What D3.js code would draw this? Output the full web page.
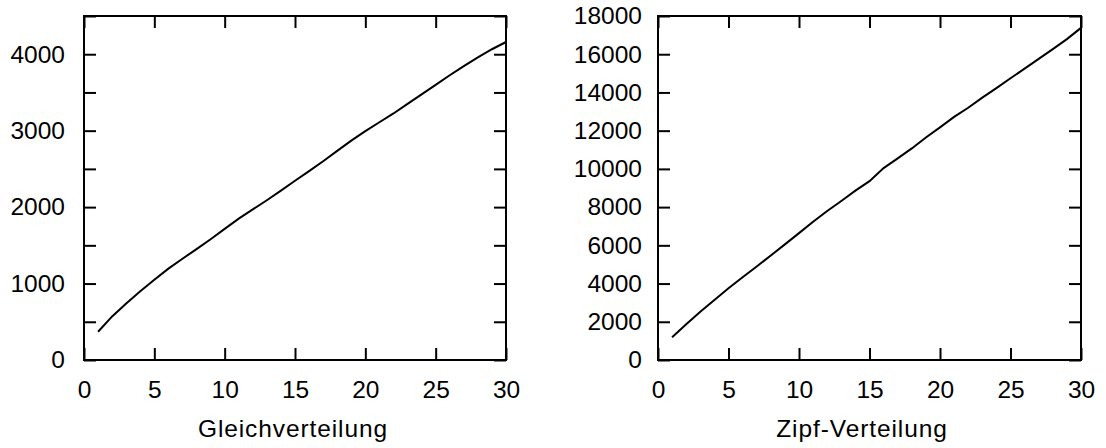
<!DOCTYPE html>
<html><head><meta charset="utf-8">
<script src="https://cdn.jsdelivr.net/npm/d3@7"></script>
<style>
body{margin:0;background:#fff;}
svg text{font-family:"Liberation Sans",Arial,sans-serif;fill:#000;}
</style></head>
<body><svg id="c" width="1106" height="448"></svg>
<script>
const xValues = d3.range(1, 31);
const gleichValues = [370,570,740,900,1050,1195,1325,1450,1580,1715,1850,1970,2090,2215,2345,2470,2600,2735,2870,2995,3110,3225,3350,3475,3600,3725,3845,3960,4065,4160];
const zipfValues = [1190,1870,2530,3140,3750,4330,4890,5470,6050,6640,7230,7800,8320,8860,9360,10040,10550,11070,11640,12170,12720,13200,13730,14230,14740,15250,15760,16270,16790,17380];
const xTicks = [0,5,10,15,20,25,30];
const gleichYTicks = [0,500,1000,1500,2000,2500,3000,3500,4000,4500];
const gleichYLabels = [0,1000,2000,3000,4000];
const zipfYTicks = [0,2000,4000,6000,8000,10000,12000,14000,16000,18000];
const zipfYLabels = zipfYTicks;
const titles = ["Gleichverteilung","Zipf-Verteilung"];

const svg = d3.select("#c");
const FS = 24.5;

function panel(cfg){
  const {left,right,top,bottom,yMax,yTicks,yLabels,values,title,labelPad,titleX} = cfg;
  const x = d3.scaleLinear().domain([0,30]).range([left,right]);
  const y = d3.scaleLinear().domain([0,yMax]).range([bottom,top]);
  const g = svg.append("g");
  const T = 12;
  const ab = g.append("g").attr("transform",`translate(0,${bottom})`)
    .call(d3.axisBottom(x).tickValues(xTicks).tickSize(-T).tickPadding(21).tickFormat(d3.format("d")));
  const at = g.append("g").attr("transform",`translate(0,${top})`)
    .call(d3.axisTop(x).tickValues(xTicks).tickSize(-T).tickFormat(""));
  const al = g.append("g").attr("transform",`translate(${left},0)`)
    .call(d3.axisLeft(y).tickValues(yTicks).tickSize(-T).tickPadding(labelPad)
      .tickFormat(d => yLabels.includes(d) ? String(d) : ""));
  const ar = g.append("g").attr("transform",`translate(${right},0)`)
    .call(d3.axisRight(y).tickValues(yTicks).tickSize(-T).tickFormat(""));
  [ab,at,al,ar].forEach(a=>{
    a.select(".domain").remove();
    a.selectAll(".tick line").attr("stroke","#000").attr("stroke-width",2);
    a.selectAll("text").attr("font-size",FS).attr("font-family","Liberation Sans, Arial, sans-serif").attr("fill","#000");
  });
  g.append("rect").attr("x",left).attr("y",top).attr("width",right-left).attr("height",bottom-top)
    .attr("fill","none").attr("stroke","#000").attr("stroke-width",2);
  const line = d3.line().x((d,i)=>x(xValues[i])).y(d=>y(d));
  g.append("path").datum(values).attr("d",line).attr("fill","none").attr("stroke","#000").attr("stroke-width",2);
  g.append("text").attr("x",titleX).attr("y",437).attr("text-anchor","middle")
    .attr("font-size",FS).attr("letter-spacing","0.9px").text(title);
}

panel({left:84,right:506,top:16,bottom:360,yMax:4500,yTicks:gleichYTicks,yLabels:gleichYLabels,values:gleichValues,title:titles[0],labelPad:19,titleX:293});
panel({left:658,right:1081,top:16,bottom:360,yMax:18000,yTicks:zipfYTicks,yLabels:zipfYLabels,values:zipfValues,title:titles[1],labelPad:16,titleX:862});
</script></body></html>
